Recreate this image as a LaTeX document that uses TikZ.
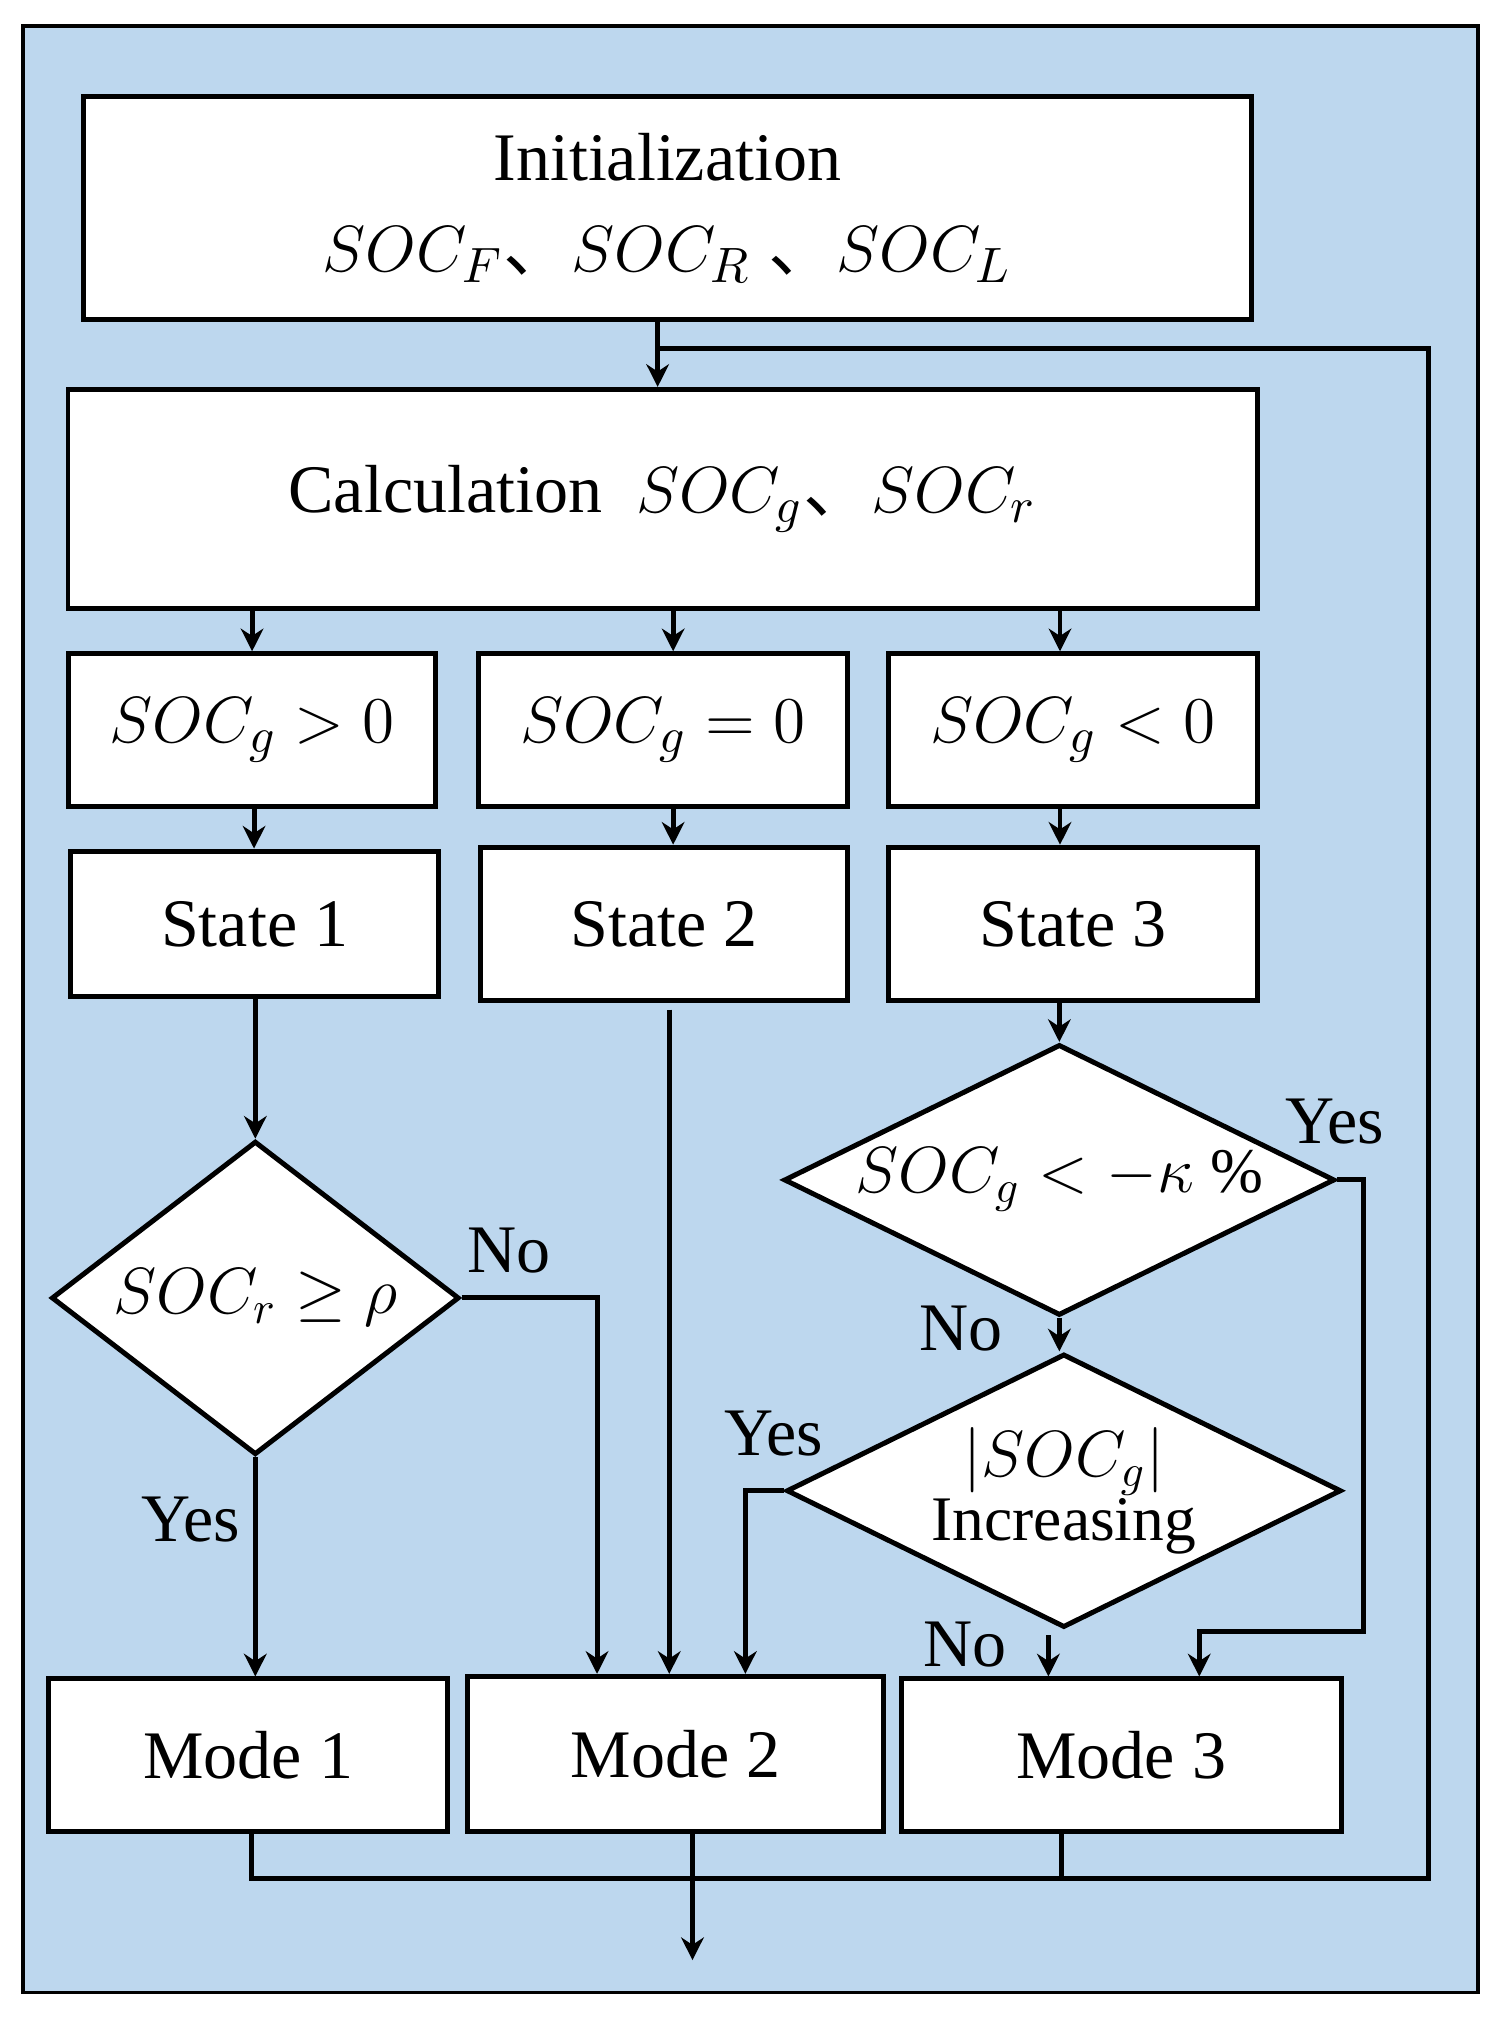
\documentclass[tikz,border=0pt]{standalone}
\usepackage{fontspec}
\setmainfont{Liberation Serif}
\newfontfamily\cjk{Noto Sans CJK SC}
\usetikzlibrary{shapes.geometric,arrows.meta}
\newcommand{\dun}{{\cjk 、}}
\begin{document}
\begin{tikzpicture}[x=0.01cm,y=-0.01cm,
  box/.style={draw,fill=white,line width=1.1pt,inner sep=0pt,font=\fontsize{15}{18}\selectfont},
  dia/.style={draw,fill=white,diamond,line width=1.1pt,inner sep=0pt},
  dtxt/.style={font=\fontsize{14}{17}\selectfont,align=center,inner sep=0pt},
  ln/.style={line width=1.1pt},
  ar/.style={line width=1.1pt,-{Stealth[length=5pt,width=5pt]}},
  lab/.style={font=\fontsize{15}{18}\selectfont}]
\useasboundingbox (0,0) rectangle (1166,1568);
\fill[white] (0,0) rectangle (1166,1568);
\draw[fill={rgb,255:red,189;green,215;blue,238},line width=0.8pt] (18,20) rectangle (1146,1545);
\node[box,minimum width=9.05cm,minimum height=1.73cm,align=center] (init) at (517.5,161.5)
  {Initialization\\[2pt] $SOC_F$\dun$SOC_R$ \dun$SOC_L$};
\node[box,minimum width=9.22cm,minimum height=1.70cm] (calc) at (514,387) {Calculation \ $SOC_g$\dun$SOC_r$};
\node[box,minimum width=2.85cm,minimum height=1.18cm] (c1) at (195.5,566) {$SOC_g>0$};
\node[box,minimum width=2.86cm,minimum height=1.18cm] (c2) at (514,566) {$SOC_g=0$};
\node[box,minimum width=2.86cm,minimum height=1.18cm] (c3) at (832,566) {$SOC_g<0$};
\node[box,minimum width=2.85cm,minimum height=1.13cm] (s1) at (197.5,716.5) {State 1};
\node[box,minimum width=2.84cm,minimum height=1.19cm] (s2) at (515,716.5) {State 2};
\node[box,minimum width=2.86cm,minimum height=1.19cm] (s3) at (832,716.5) {State 3};
\node[dia,minimum width=3.16cm,minimum height=2.43cm] (d1) at (198,1006.5) {};
\node[dtxt] (t1) at (d1) {$SOC_r\geq\rho$};
\node[dia,minimum width=4.27cm,minimum height=2.10cm] (d2) at (821.5,915) {};
\node[dtxt] (t2) at (d2) {$SOC_g<-\kappa$ \%};
\node[dia,minimum width=4.30cm,minimum height=2.12cm] (d3) at (825,1156) {};
\node[dtxt] (t3) at (d3) {$|SOC_g|$\\[-3pt]Increasing};
\node[box,minimum width=3.09cm,minimum height=1.18cm] (m1) at (192.5,1361) {Mode 1};
\node[box,minimum width=3.22cm,minimum height=1.20cm] (m2) at (524,1360) {Mode 2};
\node[box,minimum width=3.41cm,minimum height=1.18cm] (m3) at (869.5,1361) {Mode 3};
\coordinate (out) at (537,1520);
\coordinate (s2o) at (519,783);
\coordinate (d3o) at (813,1268);
\draw[ar] (init.south -| 510,0) -- (calc.north -| 510,0);
\draw[ar] (calc.south -| c1) -- (c1);
\draw[ar] (calc.south -| 522,0) -- (c2.north -| 522,0);
\draw[ar] (calc.south -| 822,0) -- (c3.north -| 822,0);
\draw[ar] (c1.south -| 197,0) -- (s1.north -| 197,0);
\draw[ar] (c2.south -| 522,0) -- (s2.north -| 522,0);
\draw[ar] (c3.south -| 822,0) -- (s3.north -| 822,0);
\draw[ar] (s1.south -| 198,0) -- (d1.north);
\draw[ar] (s2o) -- (m2.north -| s2o);
\draw[ar] (s3.south -| 821.5,0) -- (d2.north);
\draw[ar] (d1.east) -- (463,1006.5) -- (m2.north -| 463,0);
\draw[ar] (d1.south) -- (m1.north -| 198,0);
\draw[ar] (d2.east) -- (1057,915) -- (1057,1265) -- (930,1265) -- (m3.north -| 930,0);
\draw[ar] (d2.south) -- (d3.north -| 821.5,0);
\draw[ar] (d3.west) -- (578,1156) -- (m2.north -| 578,0);
\draw[ar] (d3o) -- (m3.north -| d3o);
\draw[ln] (m1.south -| 195,0) -- (195,1457) -- (1108,1457) -- (1108,270) -- (510,270);
\draw[ln] (m3.south -| 823,0) -- (823,1457);
\draw[ar] (m2.south -| out) -- (out);
\node[lab] at (395,970) {No};
\node[lab] at (148,1178) {Yes};
\node[lab] at (1035,870) {Yes};
\node[lab] at (745,1030) {No};
\node[lab] at (600,1112) {Yes};
\node[lab] at (748,1275) {No};
\end{tikzpicture}
\end{document}
